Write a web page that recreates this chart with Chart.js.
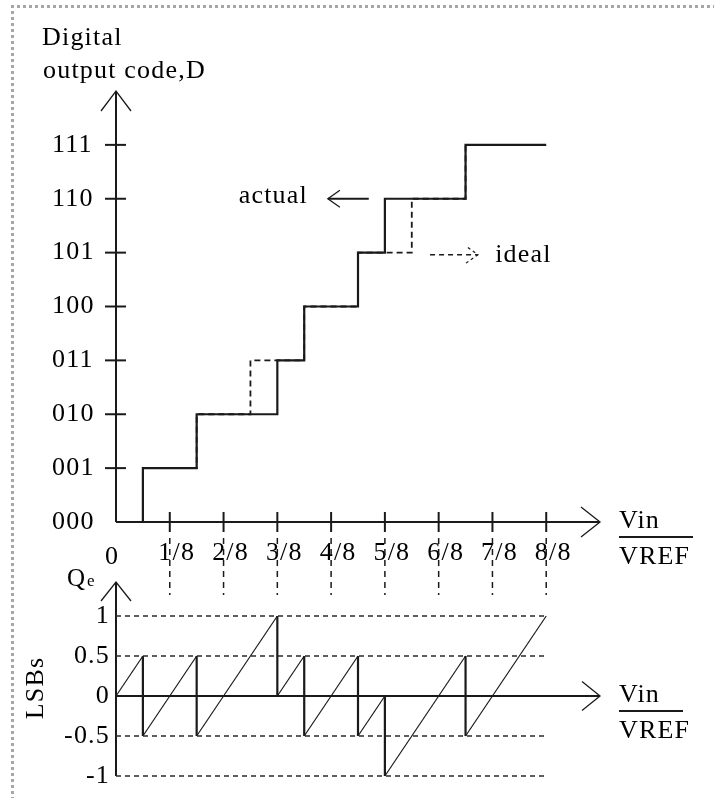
<!DOCTYPE html>
<html>
<head>
<meta charset="utf-8">
<title>ADC transfer curve and quantization error</title>
<script src="https://cdn.jsdelivr.net/npm/chart.js@4.4.1/dist/chart.umd.min.js"></script>
<style>
  html, body { margin: 0; padding: 0; background: #fff; }
  body { width: 714px; height: 798px; position: relative; overflow: hidden; }
  .frame { position: absolute; left: 11px; top: 5px; width: 720px; height: 810px;
           border-top: 3px dotted #a6a6a6; border-left: 3px dotted #a6a6a6; }
  canvas { position: absolute; left: 0; }
  #codeChart { top: 0; }
  #errorChart { top: 560px; }
</style>
</head>
<body>
<div class="frame"></div>
<canvas id="codeChart" width="714" height="600"></canvas>
<canvas id="errorChart" width="714" height="238"></canvas>
<script>
// Vin measured in LSBs (1 LSB = VREF/8)
const vinTicks = [0, 1, 2, 3, 4, 5, 6, 7, 8];
const vinLabels = ['0', '1/8', '2/8', '3/8', '4/8', '5/8', '6/8', '7/8', '8/8'];
const codeLabels = ['000', '001', '010', '011', '100', '101', '110', '111'];
const fullScale = 8;

// input level where each output code starts (index = code)
const actualSteps = [0, 0.5, 1.5, 3, 3.5, 4.5, 5, 6.5];
const idealSteps = [0, 0.5, 1.5, 2.5, 3.5, 4.5, 5.5, 6.5];

// quantization error of the actual converter, LSBs
const errVin = [0, 0.5, 0.5, 1.5, 1.5, 3, 3, 3.5, 3.5, 4.5, 4.5, 5, 5, 6.5, 6.5, 8];
const errLsb = [0, 0.5, -0.5, 0.5, -0.5, 1, 0, 0.5, -0.5, 0.5, -0.5, 0, -1, 0.5, -0.5, 1];
const errTicks = [-1, -0.5, 0, 0.5, 1];
const errLabels = ['-1', '-0.5', '0', '0.5', '1'];
const errLevels = [1, 0.5, -0.5, -1];

const INK = '#1a1a1a';
const SERIF = '"Liberation Serif", "Times New Roman", serif';
const SPACING = '1.2px';

Chart.defaults.font.family = SERIF;
Chart.defaults.font.size = 26;
Chart.defaults.color = '#000';

function stairs(steps) {
  const pts = steps.map((v, code) => ({ x: v, y: code }));
  pts.push({ x: fullScale, y: steps.length - 1 });
  return pts;
}

function seg(ctx, x1, y1, x2, y2) {
  ctx.beginPath();
  ctx.moveTo(x1, y1);
  ctx.lineTo(x2, y2);
  ctx.stroke();
}

// open "V" arrow head, (dx, dy) is the pointing direction
function arrowHead(ctx, tx, ty, dx, dy, len, half) {
  const bx = tx - dx * len, by = ty - dy * len;
  ctx.beginPath();
  ctx.moveTo(bx - dy * half, by + dx * half);
  ctx.lineTo(tx, ty);
  ctx.lineTo(bx + dy * half, by - dx * half);
  ctx.stroke();
}

function fraction(ctx, left, lineY, lineW) {
  ctx.font = '26px ' + SERIF;
  ctx.textAlign = 'left';
  ctx.textBaseline = 'alphabetic';
  ctx.fillText('Vin', left, lineY - 9);
  ctx.fillText('VREF', left, lineY + 27);
  ctx.lineWidth = 2;
  seg(ctx, left, lineY, left + lineW, lineY);
}

const codeDecor = {
  id: 'codeDecor',
  beforeDraw(chart) { chart.ctx.letterSpacing = SPACING; },
  beforeDatasetsDraw(chart) {
    const { ctx, scales: { x, y } } = chart;
    const x0 = x.getPixelForValue(0), y0 = y.getPixelForValue(0);
    const xEnd = x.getPixelForValue(x.max), yEnd = y.getPixelForValue(y.max);
    ctx.save();
    ctx.strokeStyle = INK;
    ctx.lineWidth = 2;
    seg(ctx, x0, y0, x0, yEnd);
    seg(ctx, x0, y0, xEnd, y0);
    for (let c = 1; c < codeLabels.length; c++) {
      const py = y.getPixelForValue(c);
      seg(ctx, x0 - 11, py, x0 + 10, py);
    }
    vinTicks.slice(1).forEach(v => {
      const px = x.getPixelForValue(v);
      ctx.setLineDash([]);
      seg(ctx, px, y0 - 10, px, y0 + 10);
      ctx.lineWidth = 1.5;
      ctx.setLineDash([6, 5]);
      seg(ctx, px, y0 + 16, px, y0 + 73);
      ctx.lineWidth = 2;
    });
    ctx.setLineDash([]);
    ctx.lineWidth = 1.3;
    arrowHead(ctx, x0, yEnd, 0, -1, 20, 15);
    arrowHead(ctx, xEnd, y0, 1, 0, 19, 15);
    ctx.restore();
  },
  afterDraw(chart) {
    const { ctx, scales: { x, y } } = chart;
    const x0 = x.getPixelForValue(0), y0 = y.getPixelForValue(0);
    ctx.save();
    ctx.letterSpacing = SPACING;
    ctx.fillStyle = '#000';
    ctx.strokeStyle = INK;
    ctx.font = '26px ' + SERIF;
    ctx.textBaseline = 'alphabetic';
    ctx.textAlign = 'left';
    ctx.fillText('Digital', 42, 45);
    ctx.fillText('output code,D', 43, 78);
    ctx.textAlign = 'center';
    ctx.fillText(vinLabels[0], x0 - 4, y0 + 42);
    fraction(ctx, x.getPixelForValue(x.max) + 19, y0 + 15, 74);

    // "actual" pointer
    const ay = y.getPixelForValue(6);
    ctx.textAlign = 'right';
    ctx.fillText('actual', x.getPixelForValue(3.57), ay + 4);
    ctx.lineWidth = 2;
    const aTip = x.getPixelForValue(3.94);
    seg(ctx, x.getPixelForValue(4.7), ay, aTip, ay);
    ctx.lineWidth = 1.3;
    arrowHead(ctx, aTip, ay, -1, 0, 12, 8.5);

    // "ideal" pointer
    const iy = y.getPixelForValue(5) + 2;
    ctx.textAlign = 'left';
    ctx.fillText('ideal', x.getPixelForValue(7.05), iy + 7);
    ctx.setLineDash([5, 4]);
    ctx.lineWidth = 1.5;
    const iTip = x.getPixelForValue(6.73);
    seg(ctx, x.getPixelForValue(5.84), iy, iTip, iy);
    ctx.setLineDash([3, 3]);
    ctx.lineWidth = 1.2;
    arrowHead(ctx, iTip, iy, 1, 0, 12, 8.5);
    ctx.restore();
  }
};

const errorDecor = {
  id: 'errorDecor',
  beforeDraw(chart) { chart.ctx.letterSpacing = SPACING; },
  beforeDatasetsDraw(chart) {
    const { ctx, scales: { x, y } } = chart;
    const x0 = x.getPixelForValue(0), y0 = y.getPixelForValue(0);
    const xEnd = x.getPixelForValue(x.max), yEnd = y.getPixelForValue(y.max);
    ctx.save();
    ctx.strokeStyle = INK;
    ctx.lineWidth = 2;
    seg(ctx, x0, y.getPixelForValue(y.min), x0, yEnd);
    seg(ctx, x0, y0, xEnd, y0);
    ctx.lineWidth = 1.3;
    arrowHead(ctx, x0, yEnd, 0, -1, 19, 15);
    arrowHead(ctx, xEnd, y0, 1, 0, 18, 14.5);
    ctx.restore();
  },
  afterDraw(chart) {
    const { ctx, scales: { x, y } } = chart;
    const y0 = y.getPixelForValue(0);
    ctx.save();
    ctx.fillStyle = '#000';
    ctx.strokeStyle = INK;
    ctx.textBaseline = 'alphabetic';
    ctx.textAlign = 'left';
    ctx.letterSpacing = '0px';
    ctx.font = '25px ' + SERIF;
    ctx.fillText('Q', 67, 26);
    ctx.font = '17px ' + SERIF;
    ctx.fillText('e', 87, 26);
    ctx.letterSpacing = SPACING;
    fraction(ctx, x.getPixelForValue(x.max) + 19, y0 + 15, 64);

    ctx.translate(36, 128);
    ctx.rotate(-Math.PI / 2);
    ctx.font = '26px ' + SERIF;
    ctx.textAlign = 'center';
    ctx.textBaseline = 'middle';
    ctx.fillText('LSBs', 0, 0);
    ctx.restore();
  }
};

const noGrid = { display: false, drawTicks: false };
const noBorder = { display: false };

new Chart(document.getElementById('codeChart'), {
  type: 'line',
  data: {
    datasets: [
      {
        label: 'ideal',
        data: stairs(idealSteps),
        stepped: true,
        borderColor: INK,
        borderWidth: 1.8,
        borderDash: [6, 4],
        pointRadius: 0,
        clip: false,
      },
      {
        label: 'actual',
        data: stairs(actualSteps),
        stepped: true,
        borderColor: INK,
        borderWidth: 2.2,
        pointRadius: 0,
        clip: false,
      },
    ],
  },
  options: {
    responsive: false,
    devicePixelRatio: 1,
    animation: false,
    events: [],
    layout: { padding: { left: 52, top: 91, right: 114, bottom: 0 } },
    plugins: { legend: { display: false }, tooltip: { enabled: false } },
    scales: {
      x: {
        type: 'linear', min: 0, max: 9,
        grid: noGrid, border: noBorder,
        afterFit: s => { s.height = 78; },
        afterBuildTicks: s => { s.ticks = vinTicks.map(v => ({ value: v })); },
        ticks: {
          padding: 16, labelOffset: 7, autoSkip: false, maxRotation: 0,
          callback: (v, i) => (i === 0 ? '' : vinLabels[i]),
        },
      },
      y: {
        type: 'linear', min: 0, max: 8,
        grid: noGrid, border: noBorder,
        afterFit: s => { s.width = 64; },
        afterBuildTicks: s => { s.ticks = codeLabels.map((_, i) => ({ value: i })); },
        ticks: { crossAlign: 'far', padding: 0, autoSkip: false, callback: (v, i) => codeLabels[i] },
      },
    },
  },
  plugins: [codeDecor],
});

new Chart(document.getElementById('errorChart'), {
  type: 'line',
  data: {
    datasets: [
      ...errLevels.map(l => ({
        label: 'level ' + l,
        data: [{ x: 0, y: l }, { x: fullScale, y: l }],
        borderColor: '#2a2a2a',
        borderWidth: 1.5,
        borderDash: [5, 4],
        pointRadius: 0,
        clip: false,
      })),
      {
        label: 'Qe',
        data: errVin.map((v, i) => ({ x: v, y: errLsb[i] })),
        borderColor: INK,
        borderWidth: 1.3,
        pointRadius: 0,
        clip: false,
        segment: {
          borderWidth: c => (c.p0.parsed.x === c.p1.parsed.x ? 2.2 : 1.2),
        },
      },
    ],
  },
  options: {
    responsive: false,
    devicePixelRatio: 1,
    animation: false,
    events: [],
    layout: { padding: { left: 0, top: 22, right: 114, bottom: 22 } },
    plugins: { legend: { display: false }, tooltip: { enabled: false } },
    scales: {
      x: { type: 'linear', display: false, min: 0, max: 9 },
      y: {
        type: 'linear', min: -1, max: 1.425,
        grid: noGrid, border: noBorder,
        afterFit: s => { s.width = 116; },
        afterBuildTicks: s => { s.ticks = errTicks.map(v => ({ value: v })); },
        ticks: { padding: 6, autoSkip: false, callback: (v, i) => errLabels[i] },
      },
    },
  },
  plugins: [errorDecor],
});
</script>
</body>
</html>
